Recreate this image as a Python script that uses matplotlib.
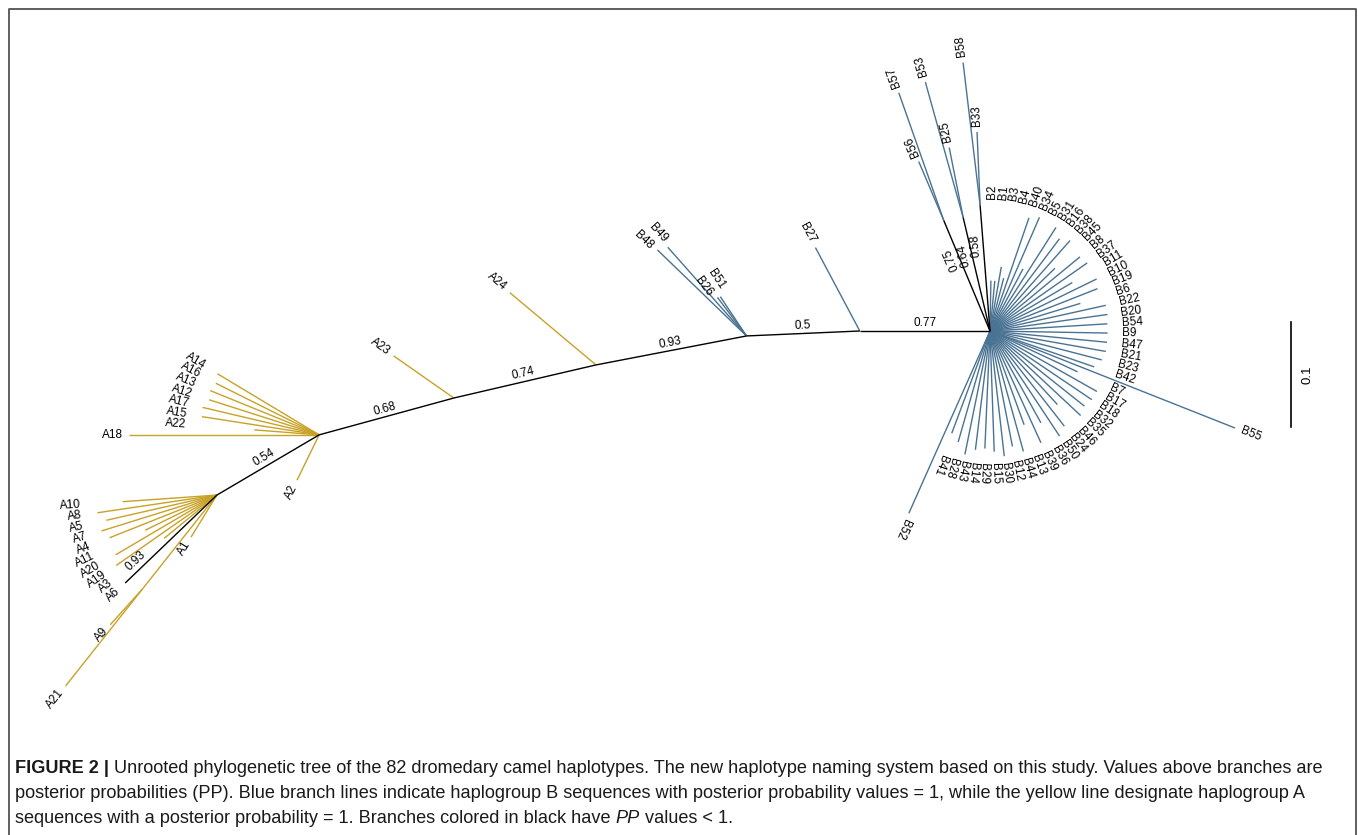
import matplotlib.pyplot as plt
import numpy as np

plt.rcParams['font.family'] = ['Liberation Sans', 'DejaVu Sans']

GOLD = '#c8a227'
BLUE = '#4a7393'
TXT = 8.5

# internal nodes (parent first): branch length in subst./site, direction in degrees, posterior prob.
node_name   = ['nB27', 'nB48', 'nA24', 'nA23', 'hubA2', 'hubA1', 'nB57', 'nB53', 'nB58', 'nA9']
node_parent = ['hubB', 'nB27', 'nB48', 'nA24', 'nA23', 'hubA2', 'hubB', 'hubB', 'hubB', 'hubA1']
node_len    = [0.124, 0.108, 0.146, 0.139, 0.133, 0.113, 0.114, 0.111, 0.120, 0.114]
node_angle  = [180.0, 182.5, 190.9, 193.1, 195.3, 210.5, 112.7, 103.3, 94.5, 231.6]
node_pp     = [0.77, 0.5, 0.93, 0.74, 0.68, 0.54, 0.75, 0.64, 0.58, 1.0]

# leaves labelled at their own tip
leaf_name   = ['B27', 'B48', 'B49', 'B51', 'B26', 'B57', 'B56', 'B53', 'B25', 'B58',
               'B33', 'B55', 'B52', 'A24', 'A23', 'A18', 'A2', 'A1', 'A9', 'A21']
leaf_parent = ['nB27', 'nB48', 'nB48', 'nB48', 'nB48', 'nB57', 'nB57', 'nB53', 'nB53', 'nB58',
               'nB58', 'hubB', 'hubB', 'nA24', 'nA23', 'hubA2', 'hubA2', 'hubA1', 'nA9', 'nA9']
leaf_len    = [0.090, 0.118, 0.113, 0.045, 0.046, 0.129, 0.061, 0.134, 0.068, 0.137,
               0.070, 0.251, 0.190, 0.107, 0.070, 0.181, 0.048, 0.047, 0.046, 0.118]
leaf_angle  = [118.0, 136.0, 131.6, 123.7, 127.0, 109.4, 113.0, 105.6, 101.3, 96.8,
               92.4, -21.6, -114.0, 140.0, 145.0, 180.0, 244.0, 238.4, 228.0, 231.6]

# star-like groups with aligned labels
fanB_up = ['B2', 'B1', 'B3', 'B4', 'B40', 'B34', 'B5', 'B31', 'B16', 'B38', 'B45', 'B8', 'B37',
           'B11', 'B10', 'B19', 'B6', 'B22', 'B20', 'B54', 'B9', 'B47', 'B21', 'B23', 'B42']
fanB_up_len = [0.048, 0.048, 0.062, 0.052, 0.114, 0.118, 0.067, 0.117, 0.110, 0.115, 0.086, 0.111, 0.113,
               0.091, 0.113, 0.110, 0.090, 0.113, 0.113, 0.112, 0.112, 0.112, 0.112, 0.110, 0.105]
fanB_low = ['B7', 'B17', 'B18', 'B32', 'B35', 'B46', 'B24', 'B50', 'B36', 'B39',
            'B13', 'B44', 'B12', 'B30', 'B15', 'B29', 'B14', 'B43', 'B28', 'B41']
fanB_low_len = [0.092, 0.117, 0.117, 0.115, 0.118, 0.095, 0.115, 0.120, 0.100, 0.117,
                0.095, 0.119, 0.112, 0.120, 0.115, 0.112, 0.114, 0.120, 0.110, 0.104]
fanA2 = ['A14', 'A16', 'A13', 'A12', 'A17', 'A15', 'A22']
fanA2_len = [0.113, 0.110, 0.112, 0.110, 0.114, 0.113, 0.062]
fanA1 = ['A10', 'A8', 'A5', 'A7', 'A4', 'A11', 'A20', 'A19', 'A3', 'A6']
fanA1_len = [0.090, 0.115, 0.108, 0.115, 0.110, 0.076, 0.112, 0.117, 0.065, 0.121]
leaf_pp = {'A6': 0.93}

# hub, names, lengths, first angle, last angle, label radius
fans = [
    ('hubB', fanB_up, fanB_up_len, 89.0, -19.0, 0.126),
    ('hubB', fanB_low, fanB_low_len, -25.0, -110.5, 0.126),
    ('hubA2', fanA2, fanA2_len, 149.0, 175.6, 0.127),
    ('hubA1', fanA1, fanA1_len, 184.0, 223.8, 0.130),
]

# sideways nudge for labels of tips that sit too close together
nudge = {'B49': 0.002, 'B48': -0.002, 'B51': 0.006, 'B26': -0.004}

PX = 1050.0           # pixels per unit of branch length
HUB = (990.0, 331.0)  # pixel position of the main B node
W, H = 1358, 835

fig = plt.figure(figsize=(W / 100, H / 100), dpi=100)
pix = fig.add_axes([0, 0, 1, 1])
pix.set_xlim(0, W)
pix.set_ylim(H, 0)
pix.axis('off')

ax = fig.add_axes([0, 0, 1, 1])
ax.set_xlim(-HUB[0] / PX, (W - HUB[0]) / PX)
ax.set_ylim((HUB[1] - H) / PX, HUB[1] / PX)
ax.axis('off')


def unit(a):
    r = np.radians(a)
    return np.array([np.cos(r), np.sin(r)])


def colour(name, pp):
    if pp < 1:
        return 'black'
    return GOLD if name.startswith(('A', 'nA', 'hubA')) else BLUE


def readable(a):
    rot = (a + 180) % 360 - 180
    if abs(rot) > 115:
        return rot - 180 if rot > 0 else rot + 180, True
    return rot, False


def name_label(p, a, s):
    rot, flip = readable(a)
    p = p + nudge.get(s, 0.0) * unit(rot + 90)
    ax.text(p[0], p[1], s, rotation=rot, rotation_mode='anchor',
            ha='right' if flip else 'left', va='center', fontsize=TXT, zorder=5)


def pp_label(p0, p1, s, t=0.5, off=0.002):
    d = p1 - p0
    rot, _ = readable(np.degrees(np.arctan2(d[1], d[0])))
    q = p0 + t * d + off * unit(rot + 90)
    ax.text(q[0], q[1], s, rotation=rot, rotation_mode='anchor',
            ha='center', va='bottom', fontsize=TXT, zorder=5)


pos = {'hubB': np.zeros(2)}
for n, par, L, a in zip(node_name, node_parent, node_len, node_angle):
    pos[n] = pos[par] + L * unit(a)

label_at = {'nB57': 0.68, 'nB53': 0.68, 'nB58': 0.68}
for n, par, pp in zip(node_name, node_parent, node_pp):
    c = colour(n, pp)
    ax.plot(*zip(pos[par], pos[n]), color=c, lw=1.0, zorder=3 if c == 'black' else 2,
            solid_capstyle='butt')
    if pp < 1:
        pp_label(pos[par], pos[n], f'{pp:g}', t=label_at.get(n, 0.5))

for n, par, L, a in zip(leaf_name, leaf_parent, leaf_len, leaf_angle):
    tip = pos[par] + L * unit(a)
    ax.plot(*zip(pos[par], tip), color=colour(n, 1), lw=1.0, zorder=2, solid_capstyle='butt')
    name_label(tip + 0.006 * unit(a), a, n)

for hub, names, lens, a0, a1, r_lab in fans:
    for n, L, a in zip(names, lens, np.linspace(a0, a1, len(names))):
        pp = leaf_pp.get(n, 1.0)
        tip = pos[hub] + L * unit(a)
        c = colour(n, pp)
        ax.plot(*zip(pos[hub], tip), color=c, lw=1.0, zorder=3 if c == 'black' else 2,
                solid_capstyle='butt')
        name_label(pos[hub] + r_lab * unit(a), a, n)
        if pp < 1:
            pp_label(pos[hub], tip, f'{pp:g}', t=0.82)

# scale bar
sx, sy = (1291 - HUB[0]) / PX, (HUB[1] - 322) / PX
ax.plot([sx, sx], [sy, sy - 0.1], color='black', lw=1.2)
ax.text(sx + 0.016, sy - 0.05, '0.1', rotation=90, ha='center', va='center', fontsize=TXT + 1)

# page frame
pix.plot([8.5, 8.5, 1355.5, 1355.5], [H, 8.5, 8.5, H], color='#444444', lw=1.2)

# caption
CAP = 13.1
renderer = fig.canvas.get_renderer()


def rich_line(x, y, pieces):
    for s, style in pieces:
        t = pix.text(x, y, s, fontsize=CAP, va='baseline', ha='left', color='#1a1a1a', **style)
        x += t.get_window_extent(renderer).width


N, B, I = {}, {'fontweight': 'bold'}, {'fontstyle': 'italic'}
rich_line(15, 773, [('FIGURE 2 |', B),
                    (' Unrooted phylogenetic tree of the 82 dromedary camel haplotypes. The new haplotype '
                     'naming system based on this study. Values above branches are', N)])
rich_line(15, 798, [('posterior probabilities (PP). Blue branch lines indicate haplogroup B sequences with '
                     'posterior probability values = 1, while the yellow line designate haplogroup A', N)])
rich_line(15, 823, [('sequences with a posterior probability = 1. Branches colored in black have ', N),
                    ('PP', I), (' values < 1.', N)])

fig.savefig('out.png', dpi=100)
